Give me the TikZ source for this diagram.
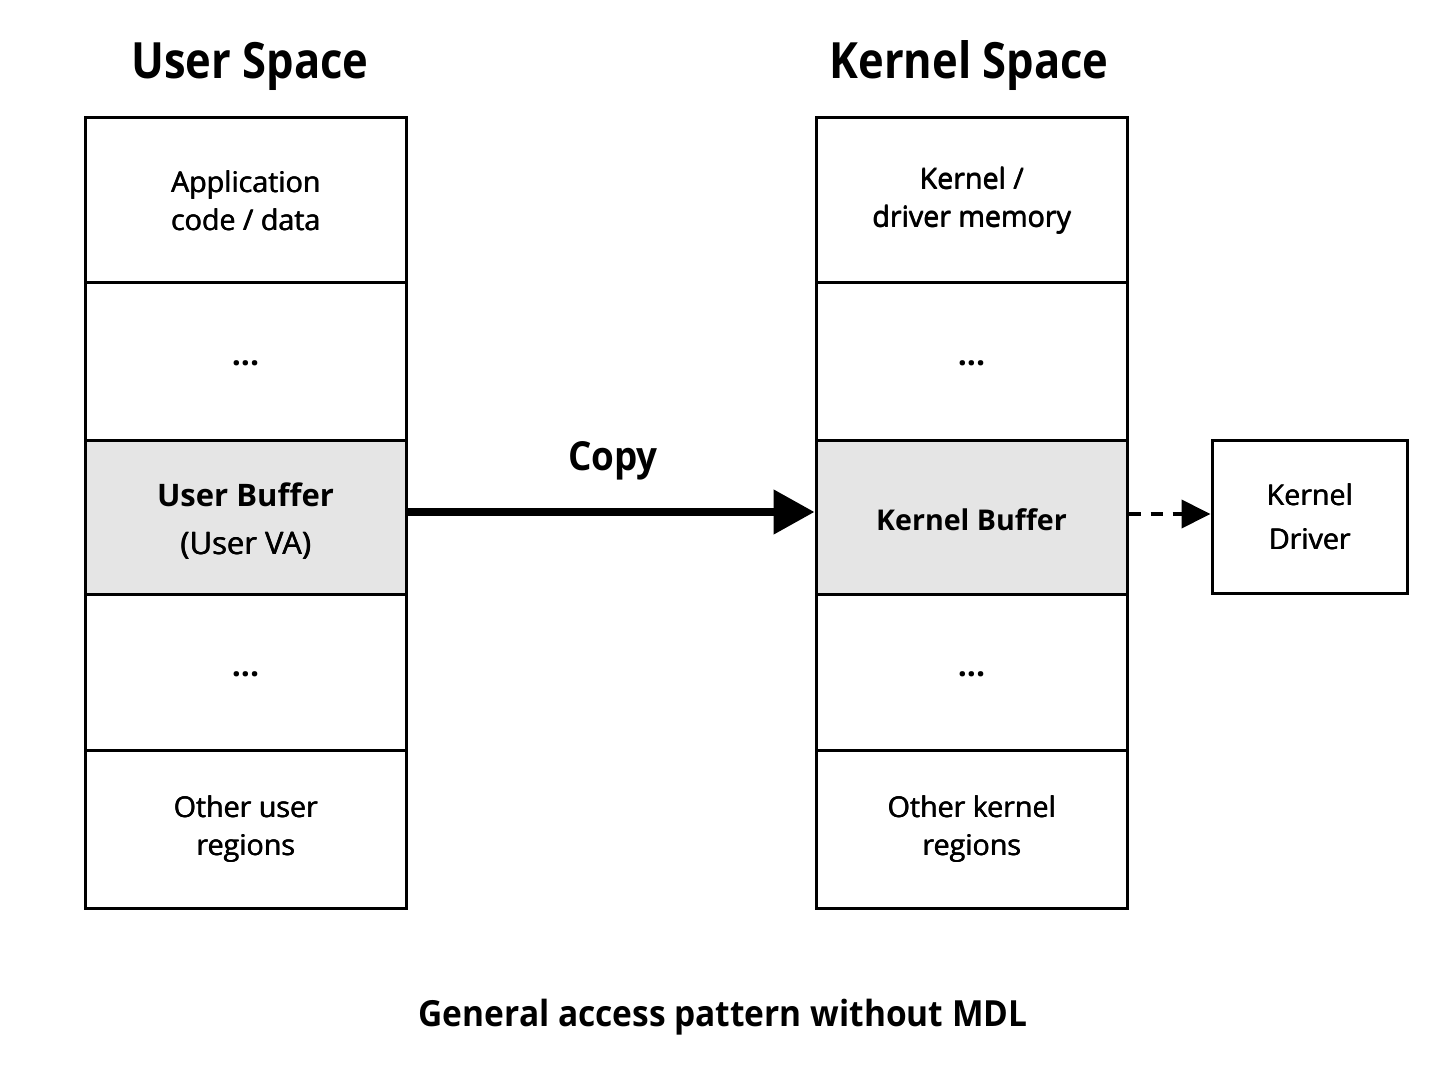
\documentclass[tikz,border=0pt]{standalone}
\usepackage{fontspec}
\setmainfont{Open Sans}
\usetikzlibrary{arrows.meta}
\newcommand\emb[1]{\leavevmode\rlap{\kern0.35pt#1}\rlap{\kern0.18pt\raisebox{0.12pt}{#1}}#1}
\newcommand\cond[2]{\scalebox{#1}[1]{#2}}
\newcommand\ddd{\smash{\raisebox{-2.2pt}{\fontsize{16}{19}\selectfont\textbf{...}}}}
\tikzset{
  cell/.style={draw, line width=1.5pt, inner sep=0pt, align=center, font=\fontsize{14.3}{19}\selectfont},
  lcell/.style={cell, minimum width=160.5pt},
  rcell/.style={cell, minimum width=155.5pt},
  shaded/.style={fill=black!10},
  lbl/.style={inner sep=0pt, align=center},
  title/.style={font=\bfseries\fontsize{25}{28}\selectfont},
}
\begin{document}
\begin{tikzpicture}[x=0.5pt, y=-0.5pt]
\useasboundingbox (0,0) rectangle (1448,1086);
% Titles
\node[title] (ut) at (250,66) {\cond{0.87}{User Space}};
\node[title] (kt) at (969,66) {\cond{0.87}{Kernel Space}};
% Left column
\node[lcell, minimum height=82.5pt] (l1) at (245.5,200.5) {\emb{Application}\\\emb{code / data}};
\node[lcell, minimum height=78.5pt] (l2) at (245.5,361.5) {\ddd};
\node[lcell, minimum height=77pt, shaded] (ub) at (245.5,517) {};
\node[lbl, font=\fontsize{15.5}{24}\selectfont] (ubt) at (245.5,521) {\textbf{User Buffer}\\\emb{(User VA)}};
\node[lcell, minimum height=78pt] (l4) at (245.5,672) {\ddd};
\node[lcell, minimum height=79pt] (l5) at (245.5,829) {\emb{Other user}\\\emb{regions}};
% Right column
\node[rcell, minimum height=82.5pt] (r1) at (971.5,200.5) {\emb{Kernel /}\\\emb{driver memory}};
\node[rcell, minimum height=78.5pt] (r2) at (971.5,361.5) {\ddd};
\node[rcell, minimum height=77pt, shaded] (kb) at (971.5,517) {};
\node[lbl, font=\bfseries\fontsize{14.3}{19}\selectfont] (kbt) at (971.5,520) {Kernel Buffer};
\node[rcell, minimum height=78pt] (r4) at (971.5,672) {\ddd};
\node[rcell, minimum height=79pt] (r5) at (971.5,829) {\emb{Other kernel}\\\emb{regions}};
% Driver
\node[cell, minimum width=97.5pt, minimum height=76.5pt, font=\fontsize{14.3}{22}\selectfont] (kd) at (1309.5,516.5) {\emb{Kernel}\\\emb{Driver}};
% Arrows
\draw[line width=4pt, -{Triangle[length=20.5pt, width=21.5pt]}] (ub.east |- 0,512) coordinate (cs) -- (cs -| kb.west);
\node[font=\bfseries\fontsize{20}{24}\selectfont] (cp) at (613,461) {\cond{0.92}{Copy}};
\draw[line width=2pt, dash pattern=on 6pt off 5pt, -{Triangle[length=14.5pt, width=14pt]}] (kb.east |- 0,514) coordinate (ds) -- (ds -| kd.west);
% Caption
\node[font=\bfseries\fontsize{18}{20}\selectfont] (cap) at (723,1017) {\cond{0.93}{General access pattern without MDL}};
\end{tikzpicture}
\end{document}
